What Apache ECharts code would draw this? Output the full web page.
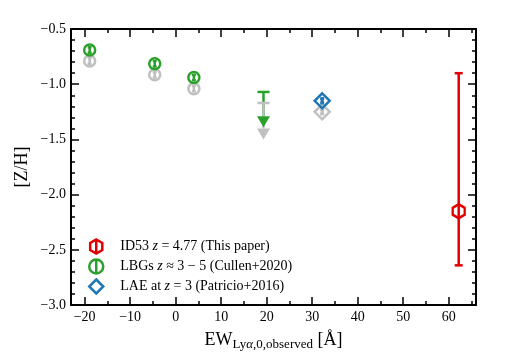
<!DOCTYPE html>
<html>
<head>
<meta charset="utf-8">
<script src="https://cdn.jsdelivr.net/npm/echarts@6/dist/echarts.min.js"></script>
<style>
html, body { margin: 0; padding: 0; background: #fff; }
#chart { width: 507px; height: 356px; }
</style>
</head>
<body>
<div id="chart"></div>
<script>
// tick positions
var xMajorTicks = [-20, -10, 0, 10, 20, 30, 40, 50, 60];
var xMinorTicks = [-15, -5, 5, 15, 25, 35, 45, 55, 65];

// LBGs z~3-5 (Cullen+2020), green and grey versions
var lbgEW = [-18.9, -4.6, 4.0];
var lbgZ = [-0.69, -0.815, -0.94];
var lbgZGrey = [-0.79, -0.915, -1.04];
var lbgErr = [0.025, 0.025, 0.025];

// upper limit point (cap value, arrow tip)
var limEW = [19.3];
var limCap = [-1.07];
var limTip = [-1.39];
var limCapGrey = [-1.17];
var limTipGrey = [-1.50];

// LAE at z=3 (Patricio+2016)
var laeEW = [32.2];
var laeZ = [-1.15];
var laeZGrey = [-1.25];
var laeErr = [0.02];

// ID53
var idEW = [62.2];
var idZ = [-2.15];
var idErrLo = [0.49];
var idErrHi = [1.25];

var serif = "'Liberation Serif', 'DejaVu Serif', serif";
var RED = '#e00000', GREEN = '#2ca02c', BLUE = '#1f77b4', GREY = '#c0c0c0';
var NONE = 'rgba(0,0,0,0)';

var hexPath = 'path://M0,-1 L0.866,-0.5 L0.866,0.5 L0,1 L-0.866,0.5 L-0.866,-0.5 Z M0,-1 L0,1';
var circPath = 'path://M1,0 A1,1 0 1,1 -1,0 A1,1 0 1,1 1,0 Z M0,-1 L0,1';

function minus(v, d) {
  var s = d != null ? Math.abs(v).toFixed(d) : String(Math.abs(v));
  return v < 0 ? '\u2212' + s : s;
}

function pts(xs, ys) {
  return xs.map(function (x, i) { return [x, ys[i]]; });
}

function errRows(xs, ys, lo, hi) {
  return xs.map(function (x, i) { return [x, ys[i], lo[i], hi[i]]; });
}

// vertical error bars with caps
function errBars(rows, color, capW, lw, z) {
  return {
    type: 'custom',
    silent: true,
    z: z,
    data: rows,
    encode: { x: 0, y: 1 },
    renderItem: function (params, api) {
      var lo = api.coord([api.value(0), api.value(1) - api.value(2)]);
      var hi = api.coord([api.value(0), api.value(1) + api.value(3)]);
      var st = { stroke: color, lineWidth: lw };
      return {
        type: 'group',
        children: [
          { type: 'line', shape: { x1: lo[0], y1: lo[1], x2: hi[0], y2: hi[1] }, style: st },
          { type: 'line', shape: { x1: lo[0] - capW / 2, y1: lo[1], x2: lo[0] + capW / 2, y2: lo[1] }, style: st },
          { type: 'line', shape: { x1: hi[0] - capW / 2, y1: hi[1], x2: hi[0] + capW / 2, y2: hi[1] }, style: st }
        ]
      };
    }
  };
}

// upper limits: rows [x, cap, tip, colorIndex]
var limColors = [GREEN, GREY];
var limLineRows = [[limEW[0], limCap[0], limTip[0], 0], [limEW[0], limCapGrey[0], limTipGrey[0], 1]];
var TRI_H = 11, TRI_W = 13;

function limLines(params, api) {
  var c = api.coord([api.value(0), api.value(1)]);
  var t = api.coord([api.value(0), api.value(2)]);
  var st = { stroke: limColors[api.value(3)], lineWidth: 2.5 };
  return {
    type: 'group',
    children: [
      { type: 'line', shape: { x1: c[0], y1: c[1], x2: c[0], y2: t[1] - TRI_H }, style: st },
      { type: 'line', shape: { x1: c[0] - 6, y1: c[1], x2: c[0] + 6, y2: c[1] }, style: st }
    ]
  };
}

function limArrows(params, api) {
  var t = api.coord([api.value(0), api.value(2)]);
  return {
    type: 'polygon',
    shape: { points: [[t[0] - TRI_W / 2, t[1] - TRI_H], [t[0] + TRI_W / 2, t[1] - TRI_H], [t[0], t[1]]] },
    style: { fill: limColors[api.value(3)] }
  };
}

var legendText = {
  'ID53': 'ID53 {i|z} = 4.77 (This paper)',
  'LBGs': 'LBGs {i|z} \u2248 3 \u2212 5 (Cullen+2020)',
  'LAE': 'LAE at {i|z} = 3 (Patricio+2016)'
};

function xAxisDef(pos, ticks, len, labels, line) {
  return {
    type: 'value', position: pos, min: -23, max: 66,
    axisLine: { show: line, onZero: false, lineStyle: { color: '#000', width: 2 } },
    axisTick: { show: true, inside: true, length: len, customValues: ticks, lineStyle: { color: '#000', width: 1.5 } },
    axisLabel: {
      show: labels, customValues: ticks, margin: 5, color: '#000',
      fontFamily: serif, fontSize: 14,
      formatter: function (v) { return minus(v); }
    },
    splitLine: { show: false }
  };
}

function yAxisDef(pos, labels) {
  return {
    type: 'value', position: pos, min: -3.0, max: -0.5, interval: 0.5,
    axisLine: { show: true, onZero: false, lineStyle: { color: '#000', width: 2 } },
    axisTick: { show: true, inside: true, length: 8, lineStyle: { color: '#000', width: 1.5 } },
    minorTick: { show: true, splitNumber: 5, length: 4, lineStyle: { color: '#000', width: 1.5 } },
    axisLabel: {
      show: labels, margin: 5, color: '#000', fontFamily: serif, fontSize: 14,
      formatter: function (v) { return minus(v, 1); }
    },
    splitLine: { show: false },
    minorSplitLine: { show: false }
  };
}

var xAxes = [
  xAxisDef('bottom', xMajorTicks, 8, true, true),
  xAxisDef('bottom', xMinorTicks, 4, false, false),
  xAxisDef('top', xMajorTicks, 8, false, true),
  xAxisDef('top', xMinorTicks, 4, false, false)
];
xAxes[0].name = 'EW{sub|Ly}{subi|\u03b1}{sub|,0,observed} [\u00c5]';
xAxes[0].nameLocation = 'middle';
xAxes[0].nameGap = 20;
xAxes[0].nameTextStyle = {
  fontFamily: serif, fontSize: 18, color: '#000', lineHeight: 22, verticalAlign: 'top',
  rich: {
    sub: { fontFamily: serif, fontSize: 13, lineHeight: 8, verticalAlign: 'bottom', color: '#000' },
    subi: { fontFamily: serif, fontSize: 13, fontStyle: 'italic', lineHeight: 8, verticalAlign: 'bottom', color: '#000' }
  }
};

var yAxes = [yAxisDef('left', true), yAxisDef('right', false)];
yAxes[0].name = '[Z/H]';
yAxes[0].nameLocation = 'middle';
yAxes[0].nameGap = 40;
yAxes[0].nameRotate = 90;
yAxes[0].nameMoveOverlap = false;
yAxes[0].nameTextStyle = { fontFamily: serif, fontSize: 18, color: '#000' };

function hollow(color) {
  return { color: NONE, borderColor: color, borderWidth: 2.5, opacity: 1 };
}

var chart = echarts.init(document.getElementById('chart'), null, { renderer: 'canvas' });
chart.setOption({
  animation: false,
  backgroundColor: '#fff',
  grid: { left: 71, right: 31, top: 29, bottom: 49 },
  xAxis: xAxes,
  yAxis: yAxes,
  legend: {
    orient: 'vertical', left: 88, top: 238, padding: 0, itemGap: 3, itemWidth: 14, itemHeight: 14,
    data: [
      { name: 'ID53', icon: hexPath, itemStyle: hollow(RED) },
      { name: 'LBGs', icon: circPath, itemStyle: hollow(GREEN) },
      { name: 'LAE', icon: 'diamond', itemStyle: hollow(BLUE) }
    ],
    formatter: function (n) { return legendText[n]; },
    textStyle: {
      fontFamily: serif, fontSize: 14, lineHeight: 17, color: '#000', padding: [0, 0, 0, 12],
      rich: { i: { fontFamily: serif, fontSize: 14, lineHeight: 17, fontStyle: 'italic', color: '#000' } }
    }
  },
  series: [
    // grey (shifted) points first
    errBars(errRows(lbgEW, lbgZGrey, lbgErr, lbgErr), GREY, 4, 2.5, 2),
    {
      type: 'scatter', name: 'LBGsGrey', data: pts(lbgEW, lbgZGrey), symbol: 'circle', symbolSize: 11, z: 2,
      itemStyle: hollow(GREY)
    },
    errBars(errRows(laeEW, laeZGrey, laeErr, laeErr), GREY, 4, 3, 2),
    {
      type: 'scatter', name: 'LAEGrey', data: pts(laeEW, laeZGrey), symbol: 'diamond', symbolSize: 15, z: 2,
      itemStyle: hollow(GREY)
    },
    { type: 'custom', silent: true, z: 3, data: limLineRows, encode: { x: 0, y: 1 }, renderItem: limLines },
    { type: 'custom', silent: true, z: 4, data: limLineRows, encode: { x: 0, y: 2 }, renderItem: limArrows },
    // coloured points
    errBars(errRows(lbgEW, lbgZ, lbgErr, lbgErr), GREEN, 4, 2.5, 5),
    {
      type: 'scatter', name: 'LBGs', data: pts(lbgEW, lbgZ), symbol: 'circle', symbolSize: 11, z: 5,
      itemStyle: hollow(GREEN)
    },
    errBars(errRows(laeEW, laeZ, laeErr, laeErr), BLUE, 4, 3, 5),
    {
      type: 'scatter', name: 'LAE', data: pts(laeEW, laeZ), symbol: 'diamond', symbolSize: 15, z: 5,
      itemStyle: hollow(BLUE)
    },
    errBars(errRows(idEW, idZ, idErrLo, idErrHi), RED, 8, 2.5, 6),
    {
      type: 'scatter', name: 'ID53', data: pts(idEW, idZ), symbol: 'path://M0,-1 L0.866,-0.5 L0.866,0.5 L0,1 L-0.866,0.5 L-0.866,-0.5 Z',
      symbolSize: [12, 14], z: 6,
      itemStyle: hollow(RED)
    }
  ]
});
</script>
</body>
</html>
